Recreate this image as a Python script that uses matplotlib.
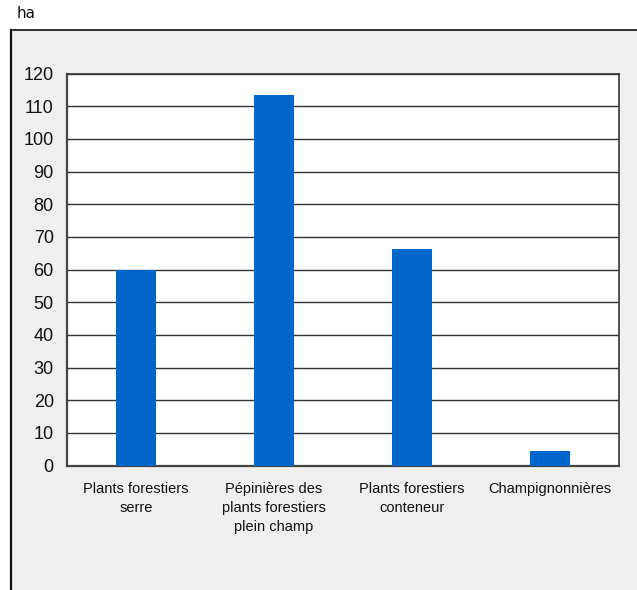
import matplotlib
matplotlib.use("Agg")
import matplotlib.pyplot as plt
from matplotlib.patches import Rectangle
from matplotlib.lines import Line2D

categories = ["Plants forestiers\nserre",
              "Pépinières des\nplants forestiers\nplein champ",
              "Plants forestiers\nconteneur",
              "Champignonnières"]
values = [60.0, 113.5, 66.4, 4.5]
yticks = [0, 10, 20, 30, 40, 50, 60, 70, 80, 90, 100, 110, 120]

W, H = 637, 590
fig = plt.figure(figsize=(W / 100, H / 100), dpi=100)
fig.patch.set_facecolor("white")

# grey panel
fig.patches.append(Rectangle((11 / W, 0), 1 - 11 / W, (H - 30) / H,
                             transform=fig.transFigure, facecolor="#efefef",
                             edgecolor="none", zorder=-2))
fig.lines.append(Line2D([11 / W, 1], [(H - 30) / H] * 2, transform=fig.transFigure,
                        color="#111111", lw=1.2, zorder=-1))
fig.lines.append(Line2D([11 / W] * 2, [0, (H - 30) / H], transform=fig.transFigure,
                        color="#111111", lw=1.6, zorder=-1))

fig.text(17 / W, 1 - 13 / H, "ha", fontsize=11, family="DejaVu Sans",
         ha="left", va="center", color="#111111")

left, right, top, bottom = 67, 619, 73.5, 465.6
ax = fig.add_axes([left / W, (H - bottom) / H, (right - left) / W, (bottom - top) / H])
ax.set_zorder(2)
ax.set_facecolor("white")

x = list(range(len(categories)))
ax.bar(x, values, width=0.29, color="#0066cc", zorder=3)
ax.set_xlim(-0.5, len(categories) - 0.5)
ax.set_ylim(0, 120)
ax.set_yticks(yticks)
ax.set_yticklabels([str(v) for v in yticks], fontsize=13, family="Liberation Sans",
                   color="#111111")
ax.set_xticks(x)
ax.set_xticklabels(categories, fontsize=10.5, family="Liberation Sans",
                   color="#111111", linespacing=1.45, va="top")
ax.tick_params(axis="both", length=0)
ax.tick_params(axis="y", pad=9.5)
ax.tick_params(axis="x", pad=12)
ax.yaxis.grid(True, color="#333333", lw=1.0, zorder=1)
ax.set_axisbelow(True)
for s in ["left", "bottom"]:
    ax.spines[s].set_color("#444444")
    ax.spines[s].set_linewidth(1.6)
for s in ["top", "right"]:
    ax.spines[s].set_color("#333333")
    ax.spines[s].set_linewidth(1.2)

fig.savefig("out.png", dpi=100)
